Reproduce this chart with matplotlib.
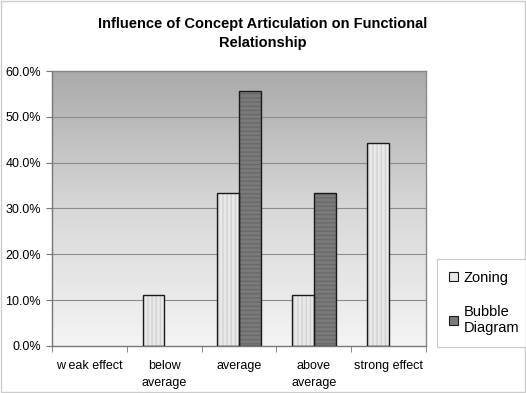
import numpy as np
import matplotlib
matplotlib.use("Agg")
import matplotlib.pyplot as plt
from matplotlib.ticker import FuncFormatter, FixedLocator
from matplotlib.patches import Rectangle
from matplotlib.colors import LinearSegmentedColormap

plt.rcParams['font.family'] = ['Liberation Sans', 'DejaVu Sans']

categories = ["w eak effect", "below\naverage", "average", "above\naverage", "strong effect"]
zoning = [0.0, 11.1, 33.3, 11.1, 44.4]
bubble = [0.0, 0.0, 55.6, 33.3, 0.0]
series_names = ["Zoning", "Bubble\nDiagram"]
title = "Influence of Concept Articulation on Functional\nRelationship"

fig = plt.figure(figsize=(5.26, 3.93), dpi=100)
fig.patch.set_facecolor("white")
ax = fig.add_axes([0.099, 0.12, 0.711, 0.699])

n = len(categories)
x = np.arange(n)
w = 0.29
ymax = 60

# vertical gradient backdrop
grad = np.linspace(0, 1, 256).reshape(-1, 1)
cmap = LinearSegmentedColormap.from_list("bg", ["#f4f4f4", "#d8d8d8", "#aaaaaa"])
ax.imshow(grad, aspect="auto", cmap=cmap, origin="lower",
          extent=[-0.5, n - 0.5, 0, ymax], zorder=0)

for yv in range(10, 61, 10):
    ax.axhline(yv, color="#8c8c8c", lw=0.8, zorder=1)


def outline_widths(vals):
    return [1.0 if v > 0 else 0.0 for v in vals]


# bars: hatched fill plus dark outline
ax.bar(x - w / 2, zoning, w, color="#e9e9e9", edgecolor="#d2d2d2", hatch="||||", lw=0, zorder=2)
ax.bar(x - w / 2, zoning, w, fill=False, edgecolor="#1a1a1a", lw=outline_widths(zoning), zorder=3)
ax.bar(x + w / 2, bubble, w, color="#7a7a7a", edgecolor="#6a6a6a", hatch="----", lw=0, zorder=2)
ax.bar(x + w / 2, bubble, w, fill=False, edgecolor="#1a1a1a", lw=outline_widths(bubble), zorder=3)

ax.set_xlim(-0.5, n - 0.5)
ax.set_ylim(0, ymax)
ax.set_xticks(x)
ax.set_xticklabels(categories, fontsize=9, linespacing=1.6)
ax.xaxis.set_minor_locator(FixedLocator(np.arange(-0.5, n, 1.0)))
ax.tick_params(axis="x", which="major", length=0, pad=10)
ax.tick_params(axis="x", which="minor", length=4, color="#777777")
ax.set_yticks(range(0, 61, 10))
ax.yaxis.set_major_formatter(FuncFormatter(lambda v, p: f"{v:.1f}%"))
ax.tick_params(axis="y", length=4, color="#777777", labelsize=9, pad=4)

for s in ["left", "bottom"]:
    ax.spines[s].set_color("#777777")
    ax.spines[s].set_linewidth(1.0)
for s in ["top", "right"]:
    ax.spines[s].set_color("#888888")
    ax.spines[s].set_linewidth(1.0)

fig.text(0.5, 0.915, title, ha="center", va="center", fontsize=10.5,
         fontweight="bold", linespacing=1.5)

handles = [Rectangle((0, 0), 1, 1, facecolor="#e9e9e9", edgecolor="#1a1a1a", lw=0.8),
           Rectangle((0, 0), 1, 1, facecolor="#7a7a7a", edgecolor="#1a1a1a", lw=0.8)]
leg = fig.legend(handles, series_names, loc="lower left",
                 bbox_to_anchor=(0.831, 0.117), borderaxespad=0, fontsize=10.5,
                 frameon=True, fancybox=False, edgecolor="#bbbbbb",
                 handlelength=0.6, handleheight=0.6, handletextpad=0.4,
                 labelspacing=1.4, borderpad=0.8)
leg.get_frame().set_linewidth(0.8)

# outer border
fig.patches.append(Rectangle((0.002, 0.002), 0.996, 0.996, transform=fig.transFigure,
                             fill=False, edgecolor="#cccccc", lw=1))

fig.savefig("out.png", dpi=100)
